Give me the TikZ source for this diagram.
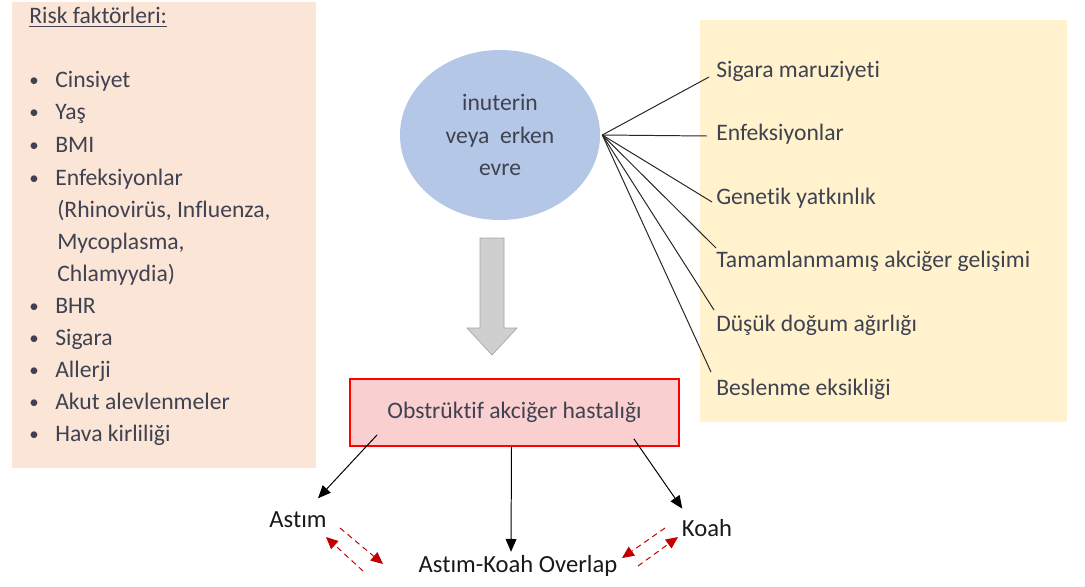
\documentclass[tikz,border=0pt]{standalone}
\usepackage{fontspec}
\setmainfont{Carlito}[Ligatures=NoCommon]
\usetikzlibrary{shapes.geometric,arrows.meta,positioning,calc}

\definecolor{peach}{HTML}{FBE5D6}
\definecolor{cream}{HTML}{FFF2CC}
\definecolor{lightblue}{HTML}{B4C7E7}
\definecolor{pinkfill}{HTML}{F9CFD0}
\definecolor{darkred}{HTML}{C00000}
\definecolor{txtgray}{HTML}{3F4250}
\newcommand{\bul}{\makebox[0.65cm][l]{\raisebox{0.1ex}{\scalebox{0.8}{\textbullet}}}}

\begin{document}
\begin{tikzpicture}[x=0.025cm, y=-0.025cm, font=\fontsize{16.8}{22.8}\selectfont]
\tikzstyle{panel} = [rectangle, anchor=north west, inner sep=0pt]
\tikzstyle{item} = [anchor=west, inner sep=0pt, text=txtgray, text height=2.0ex, text depth=0.25ex]
\tikzstyle{label} = [inner sep=1pt, text=black!90, font=\fontsize{17.5}{22.8}\selectfont]
\tikzstyle{fan} = [draw, black!85, line width=0.7pt]
\tikzstyle{arr} = [draw, black, line width=0.7pt, -{Triangle[length=0.32cm, width=0.27cm]}]
\tikzstyle{redarr} = [draw, darkred, line width=0.7pt, dash pattern=on 4pt off 3pt, -{Triangle[length=0.3cm, width=0.27cm]}]

\useasboundingbox (0,0) rectangle (1085,586);

% Panels
\node [panel, fill=peach, minimum width=7.6cm, minimum height=11.65cm] (riskbox) at (12,2) {};
\node [panel, fill=cream, minimum width=9.175cm, minimum height=10.05cm] (causebox) at (700,20) {};

% Risk factors
\node [item] (riskttl) at (29,18) {\underline{Risk faktörleri:}};
\node [item] (cins) at (29,82) {\bul Cinsiyet};
\node [item] (yas) at (29,114) {\bul Yaş};
\node [item] (bmi) at (29,147) {\bul BMI};
\node [item] (enfl) at (29,180) {\bul Enfeksiyonlar};
\node [item] (rhino) at (57,212) {(Rhinovirüs, Influenza,};
\node [item] (myco) at (57,244) {Mycoplasma,};
\node [item] (chla) at (57,276) {Chlamyydia)};
\node [item] (bhr) at (29,308) {\bul BHR};
\node [item] (sig) at (29,340) {\bul Sigara};
\node [item] (alle) at (29,372) {\bul Allerji};
\node [item] (akut) at (29,404) {\bul Akut alevlenmeler};
\node [item] (hava) at (29,436) {\bul Hava kirliliği};

% Early stage
\node [ellipse, fill=lightblue, minimum width=5cm, minimum height=4.25cm, inner sep=0pt, align=center, text=txtgray] (evre) at (500,135) {inuterin\\veya\ \ erken\\evre};

% Causes
\node [item] (sigm) at (716,72) {Sigara maruziyeti};
\node [item] (enfr) at (716,135) {Enfeksiyonlar};
\node [item] (gen) at (716,199) {Genetik yatkınlık};
\node [item] (tam) at (716,262) {Tamamlanmamış akciğer gelişimi};
\node [item] (dus) at (716,326) {Düşük doğum ağırlığı};
\node [item] (bes) at (716,390) {Beslenme eksikliği};

\draw [fan] ($(evre.east)+(2,0)$) -- ($(sigm.west)+(-7,5)$);
\draw [fan] ($(evre.east)+(2,0)$) -- ($(enfr.west)+(-9,1)$);
\draw [fan] ($(evre.east)+(2,0)$) -- ($(gen.west)+(-4,3)$);
\draw [fan] ($(evre.east)+(2,0)$) -- ($(tam.west)+(0,-14)$);
\draw [fan] ($(evre.east)+(2,0)$) -- ($(dus.west)+(-2,-16)$);
\draw [fan] ($(evre.east)+(2,0)$) -- ($(bes.west)+(-5,-18)$);

% Big arrow
\filldraw [fill=black!19, draw=black!35, line width=0.5pt] (480,238) -- (504,238) -- (504,328) -- (517,328) -- (492,355) -- (467,328) -- (480,328) -- cycle;

% Disease
\node [rectangle, draw=red, line width=1.2pt, fill=pinkfill, minimum width=8.225cm, minimum height=1.675cm, text=txtgray] (obs) at (514.5,412.5) {Obstrüktif akciğer hastalığı};

\node [label] (astim) at (298,520) {Astım};
\node [label] (ovl) at (518,566) {Astım-Koah Overlap};
\node [label] (koah) at (707,528) {Koah};

\draw [arr] ($(obs.south west)+(28,-12)$) -- ($(astim.north)+(20,-12)$);
\draw [arr] ($(obs.south)+(-3,0)$) -- ($(ovl.north)+(-7,-2)$);
\draw [arr] ($(obs.south east)+(-46,-8)$) -- ($(koah.north west)+(2,-9)$);

% Overlap arrows
\coordinate (la1) at (340,528);
\coordinate (la2) at (383,564);
\coordinate (lb1) at (363,571);
\coordinate (lb2) at (326,537);
\coordinate (ra1) at (665,528);
\coordinate (ra2) at (622,558);
\coordinate (rb1) at (638,566);
\coordinate (rb2) at (678,537);
\draw [redarr] (la1) -- (la2);
\draw [redarr] (lb1) -- (lb2);
\draw [redarr] (ra1) -- (ra2);
\draw [redarr] (rb1) -- (rb2);

\end{tikzpicture}
\end{document}
